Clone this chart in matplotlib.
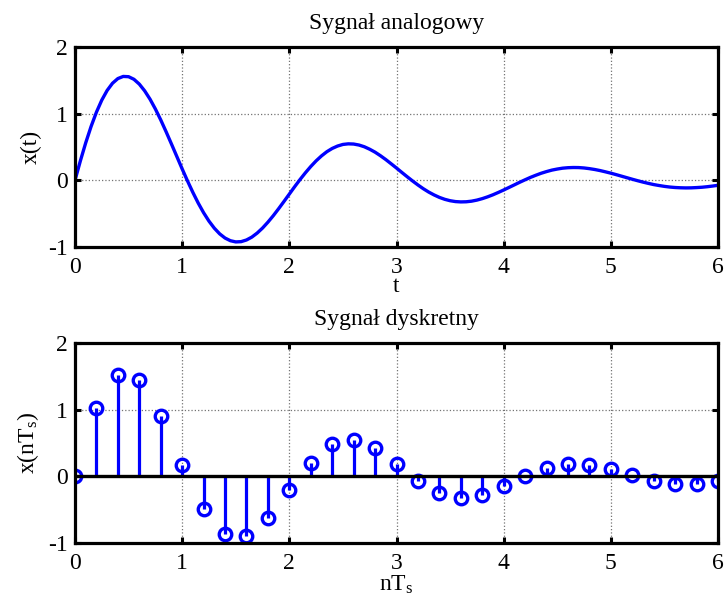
import matplotlib
matplotlib.use('Agg')
import matplotlib.pyplot as plt

# values (analog curve, step 0.05)
t = [0.00, 0.05, 0.10, 0.15, 0.20, 0.25, 0.30, 0.35, 0.40, 0.45,
     0.50, 0.55, 0.60, 0.65, 0.70, 0.75, 0.80, 0.85, 0.90, 0.95,
     1.00, 1.05, 1.10, 1.15, 1.20, 1.25, 1.30, 1.35, 1.40, 1.45,
     1.50, 1.55, 1.60, 1.65, 1.70, 1.75, 1.80, 1.85, 1.90, 1.95,
     2.00, 2.05, 2.10, 2.15, 2.20, 2.25, 2.30, 2.35, 2.40, 2.45,
     2.50, 2.55, 2.60, 2.65, 2.70, 2.75, 2.80, 2.85, 2.90, 2.95,
     3.00, 3.05, 3.10, 3.15, 3.20, 3.25, 3.30, 3.35, 3.40, 3.45,
     3.50, 3.55, 3.60, 3.65, 3.70, 3.75, 3.80, 3.85, 3.90, 3.95,
     4.00, 4.05, 4.10, 4.15, 4.20, 4.25, 4.30, 4.35, 4.40, 4.45,
     4.50, 4.55, 4.60, 4.65, 4.70, 4.75, 4.80, 4.85, 4.90, 4.95,
     5.00, 5.05, 5.10, 5.15, 5.20, 5.25, 5.30, 5.35, 5.40, 5.45,
     5.50, 5.55, 5.60, 5.65, 5.70, 5.75, 5.80, 5.85, 5.90, 5.95, 6.00]
x_t = [0.000, 0.291, 0.562, 0.807, 1.022, 1.203, 1.348, 1.456, 1.526, 1.558,
       1.554, 1.515, 1.443, 1.342, 1.217, 1.070, 0.906, 0.729, 0.545, 0.358,
       0.171, -0.010, -0.182, -0.342, -0.486, -0.612, -0.718, -0.803, -0.866, -0.906,
       -0.924, -0.920, -0.895, -0.852, -0.791, -0.716, -0.628, -0.531, -0.426, -0.317,
       -0.206, -0.095, 0.012, 0.113, 0.207, 0.292, 0.366, 0.429, 0.478, 0.514,
       0.538, 0.547, 0.544, 0.529, 0.503, 0.466, 0.422, 0.369, 0.311, 0.248,
       0.184, 0.118, 0.053, -0.010, -0.070, -0.126, -0.176, -0.219, -0.256, -0.285,
       -0.306, -0.319, -0.324, -0.322, -0.313, -0.297, -0.275, -0.248, -0.217, -0.182,
       -0.145, -0.107, -0.068, -0.029, 0.008, 0.044, 0.076, 0.106, 0.131, 0.153,
       0.169, 0.182, 0.189, 0.192, 0.191, 0.185, 0.175, 0.162, 0.146, 0.127,
       0.107, 0.085, 0.062, 0.039, 0.016, -0.006, -0.027, -0.046, -0.064, -0.078,
       -0.091, -0.101, -0.108, -0.112, -0.114, -0.113, -0.109, -0.104, -0.096, -0.086, -0.075]

# discrete samples, Ts = 0.2
nTs = [0.0, 0.2, 0.4, 0.6, 0.8, 1.0, 1.2, 1.4, 1.6, 1.8,
       2.0, 2.2, 2.4, 2.6, 2.8, 3.0, 3.2, 3.4, 3.6, 3.8,
       4.0, 4.2, 4.4, 4.6, 4.8, 5.0, 5.2, 5.4, 5.6, 5.8, 6.0]
x_n = [0.000, 1.022, 1.526, 1.443, 0.906, 0.171, -0.486, -0.866, -0.895, -0.628,
       -0.206, 0.207, 0.478, 0.544, 0.422, 0.184, -0.070, -0.256, -0.324, -0.275,
       -0.145, 0.008, 0.131, 0.189, 0.175, 0.107, 0.016, -0.064, -0.108, -0.109, -0.075]

xticks = [0, 1, 2, 3, 4, 5, 6]
yticks = [-1, 0, 1, 2]

plt.rcParams['font.family'] = ['Liberation Serif', 'DejaVu Serif']
plt.rcParams['font.size'] = 17
plt.rcParams['axes.unicode_minus'] = False
plt.rcParams['mathtext.fontset'] = 'custom'
plt.rcParams['mathtext.rm'] = 'Liberation Serif'
plt.rcParams['mathtext.it'] = 'Liberation Serif'


def style_axes(ax):
    ax.set_xlim(0, 6)
    ax.set_ylim(-1, 2)
    ax.set_xticks(xticks)
    ax.set_yticks(yticks)
    ax.grid(True, linestyle=':', color='0.45', linewidth=0.9)
    ax.tick_params(direction='in', length=4.5, width=2.2, top=True, right=True,
                   labelsize=17)
    ax.tick_params(axis='x', pad=7)
    ax.tick_params(axis='y', pad=5)
    for sp in ax.spines.values():
        sp.set_linewidth(2.3)


fig = plt.figure(figsize=(7.26, 5.96), dpi=100)
ax1 = fig.add_axes([0.1033, 0.5856, 0.8857, 0.3356])
ax2 = fig.add_axes([0.1033, 0.0889, 0.8857, 0.3356])

ax1.plot(t, x_t, color='#0000ff', linewidth=2.4, solid_joinstyle='round')
style_axes(ax1)
ax1.set_title('Sygnał analogowy', pad=13, fontsize=17)
ax1.set_xlabel('t', labelpad=-1)
ax1.set_ylabel('x(t)', labelpad=5)

markers, stems, base = ax2.stem(nTs, x_n, linefmt='-', markerfmt='o', basefmt='-')
stems.set_color('#0000ff')
stems.set_linewidth(2.3)
markers.set_color('#0000ff')
markers.set_markerfacecolor('none')
markers.set_markersize(9)
markers.set_markeredgewidth(2.4)
base.set_color('k')
base.set_linewidth(2.4)
style_axes(ax2)
ax2.set_title('Sygnał dyskretny', pad=13, fontsize=17)
ax2.set_xlabel('nT$_\\mathregular{s}$', labelpad=0)
ax2.set_ylabel('x(nT$_\\mathregular{s}$)', labelpad=5)

fig.savefig('out.png', dpi=100)
